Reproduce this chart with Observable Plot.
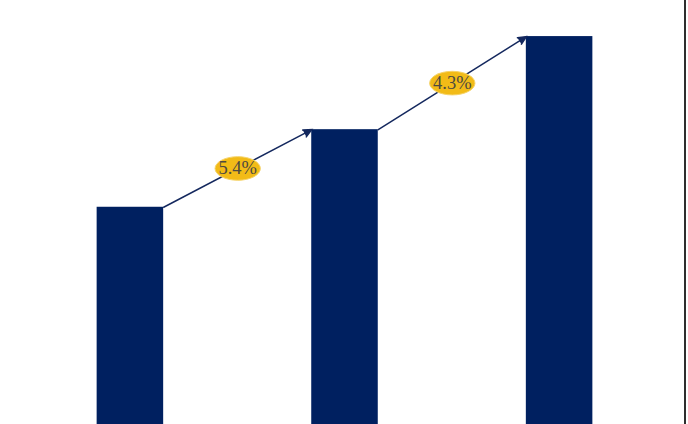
<!DOCTYPE html>
<html>
<head>
<meta charset="utf-8">
<script src="https://cdn.jsdelivr.net/npm/d3@7"></script>
<script src="https://cdn.jsdelivr.net/npm/@observablehq/plot@0.6"></script>
<style>
  html, body { margin: 0; padding: 0; background: #fff; }
  #wrap { position: relative; width: 688px; height: 424px; overflow: hidden; }
  #edge { position: absolute; left: 684px; top: 0; width: 1.6px; height: 424px; background: #2e2e2e; }
</style>
</head>
<body>
<div id="wrap"><div id="chart"></div><div id="edge"></div></div>
<script>
// Data (axis is cropped, values in arbitrary units)
const periods = [0, 1, 2];
const values = [56, 76, 100];
const growthLabels = ["5.4%", "4.3%"];

const barColor = "#002060";
const arrowColor = "#14285e";
const halfWidth = 0.155; // bar half-width in index units

const bars = periods.map((p, i) => ({p, v: values[i]}));
const steps = growthLabels.map((label, i) => ({
  x1: periods[i] + halfWidth, y1: values[i],
  x2: periods[i + 1] - halfWidth, y2: values[i + 1],
  label
}));

// ellipse symbol for the growth badges
const ellipse = {
  draw(context, size) {
    const r = Math.sqrt(size / Math.PI);
    const rx = r * 1.92, ry = r, k = 0.5523;
    context.moveTo(rx, 0);
    context.bezierCurveTo(rx, k * ry, k * rx, ry, 0, ry);
    context.bezierCurveTo(-k * rx, ry, -rx, k * ry, -rx, 0);
    context.bezierCurveTo(-rx, -k * ry, -k * rx, -ry, 0, -ry);
    context.bezierCurveTo(k * rx, -ry, rx, -k * ry, rx, 0);
    context.closePath();
  }
};

const chart = Plot.plot({
  width: 688,
  height: 424,
  marginLeft: 22.6,
  marginRight: 21.6,
  marginTop: 0,
  marginBottom: 0,
  x: {type: "linear", domain: [-0.5, 2.5], axis: null},
  y: {domain: [0, 109.3], axis: null},
  marks: [
    Plot.rectY(bars, {x1: d => d.p - halfWidth, x2: d => d.p + halfWidth, y1: 0, y2: "v", fill: barColor}),
    Plot.arrow(steps, {
      x1: "x1", y1: "y1", x2: "x2", y2: "y2",
      stroke: arrowColor, fill: arrowColor, strokeWidth: 1.5,
      headLength: 9, headAngle: 50, strokeLinejoin: "miter", strokeMiterlimit: 4
    }),
    Plot.dot(steps, {
      x: d => (d.x1 + d.x2) / 2, y: d => (d.y1 + d.y2) / 2,
      r: 11.8, symbol: ellipse, fill: "#f2bb17", stroke: "#f6d46a", strokeWidth: 1
    }),
    Plot.text(steps, {
      x: d => (d.x1 + d.x2) / 2, y: d => (d.y1 + d.y2) / 2,
      text: "label", fill: "#4d4a40", fontSize: 18.5,
      fontFamily: "Liberation Serif", dy: 0
    })
  ]
});
document.getElementById("chart").appendChild(chart);
</script>
</body>
</html>
